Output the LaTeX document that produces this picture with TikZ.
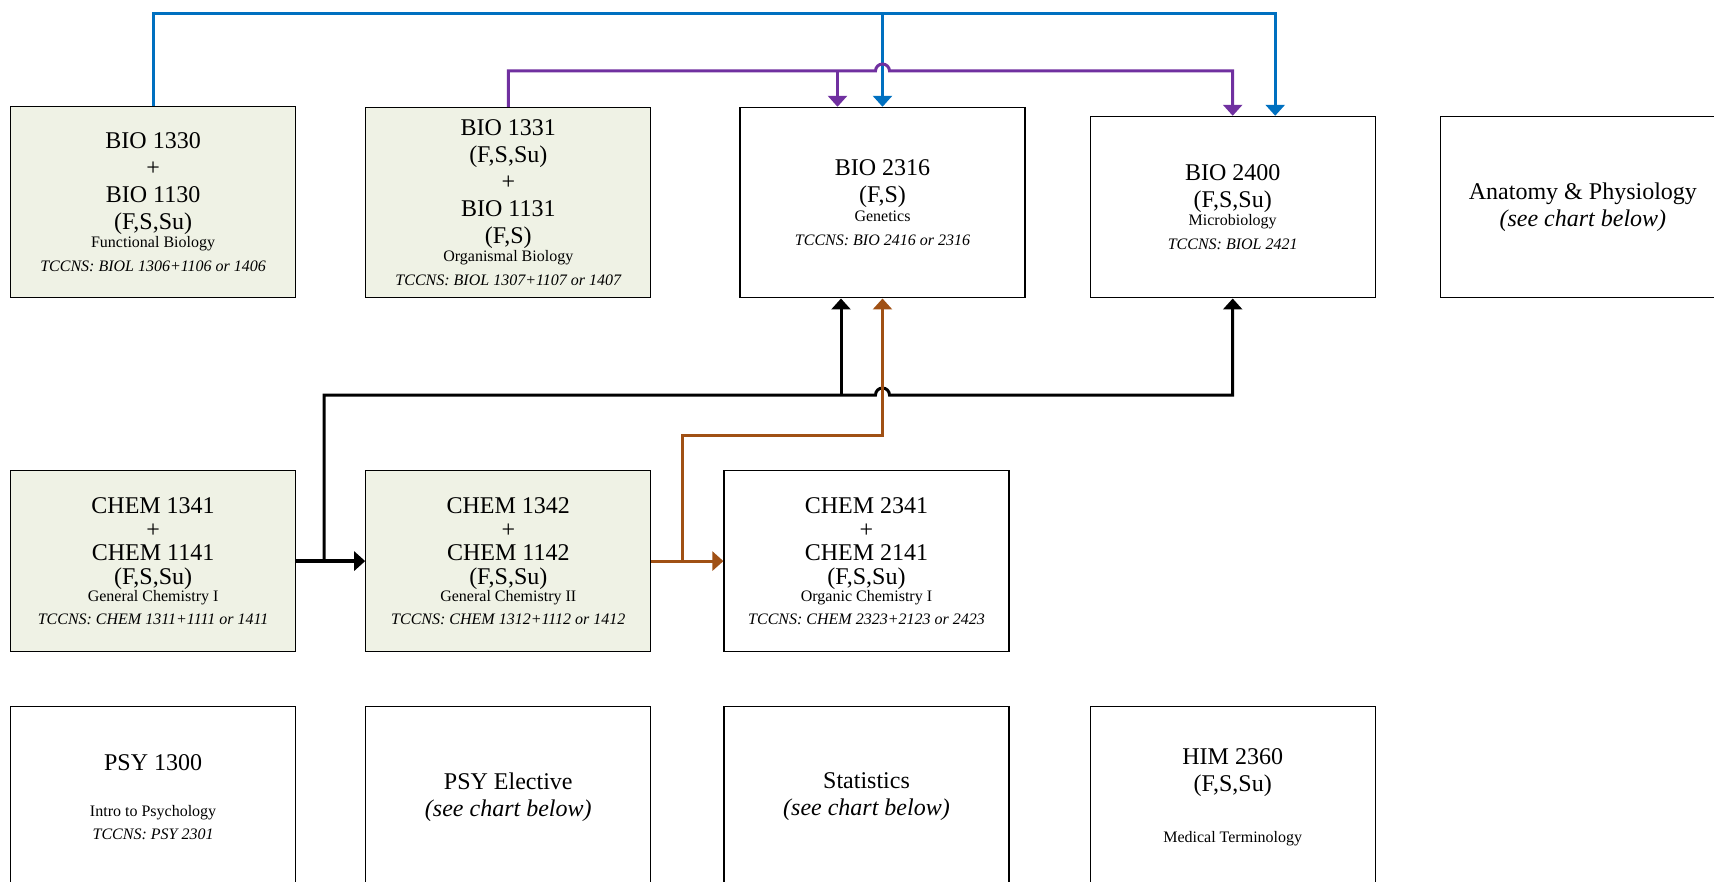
\documentclass[tikz,border=0pt]{standalone}
\usepackage{fontspec}
\setmainfont{Liberation Serif}
\usetikzlibrary{arrows.meta, positioning, calc}
\definecolor{grn}{RGB}{239,242,229}
\definecolor{lnblue}{RGB}{0,112,192}
\definecolor{lnpurple}{RGB}{112,48,160}
\definecolor{lnbrown}{RGB}{160,80,20}
\newcommand{\crsnote}[1]{{\fontsize{8}{9.6}\selectfont #1}}
\newcommand{\crstcc}[1]{{\fontsize{8}{9.6}\selectfont\itshape TCCNS: #1}}

\begin{document}
\begin{tikzpicture}[>={Triangle[width=9.5pt,length=5.5pt]}, line width=1.5pt]
  \tikzstyle{crs}=[draw, line width=0.6pt, align=center, minimum width=142.5pt, inner sep=2pt, font=\fontsize{12}{13.5}\selectfont]
  \tikzstyle{lo}=[crs, fill=grn]
  \tikzstyle{tight}=[font=\fontsize{12}{11.75}\selectfont]
  \useasboundingbox (0,0) rectangle (857pt,-441pt);

  % Biology row
  \node[lo, minimum height=95.75pt, anchor=south west] (bio1330) at (5pt,-149.25pt) {BIO 1330\\+\\BIO 1130\\(F,S,Su)\\[-4.3pt]\crsnote{Functional Biology}\\[-1.5pt]\crstcc{BIOL 1306+1106 or 1406}};
  \node[lo, minimum height=95.25pt, right=34.5pt of bio1330.south east, anchor=south west] (bio1331) {BIO 1331\\(F,S,Su)\\+\\BIO 1131\\(F,S)\\[-4.3pt]\crsnote{Organismal Biology}\\[-1.5pt]\crstcc{BIOL 1307+1107 or 1407}};
  \node[crs, minimum height=95.25pt, right=44pt of bio1331.south east, anchor=south west] (bio2316) {BIO 2316\\(F,S)\\[-4.3pt]\crsnote{Genetics}\\[-1.5pt]\crstcc{BIO 2416 or 2316}};
  \node[crs, minimum height=90.75pt, right=32pt of bio2316.south east, anchor=south west] (bio2400) {BIO 2400\\(F,S,Su)\\[-4.3pt]\crsnote{Microbiology}\\[-1.5pt]\crstcc{BIOL 2421}};
  \node[crs, minimum height=90.75pt, right=32pt of bio2400.south east, anchor=south west] (anatomy) {Anatomy \& Physiology\\\textit{(see chart below)}};

  % Chemistry row
  \node[lo, tight, minimum height=90.5pt, below=85.75pt of bio1330.south west, anchor=north west] (chem1341) {CHEM 1341\\+\\CHEM 1141\\(F,S,Su)\\[-2.9pt]\crsnote{General Chemistry I}\\[-0.5pt]\crstcc{CHEM 1311+1111 or 1411}};
  \node[lo, tight, minimum height=90.5pt, right=34.5pt of chem1341] (chem1342) {CHEM 1342\\+\\CHEM 1142\\(F,S,Su)\\[-2.9pt]\crsnote{General Chemistry II}\\[-0.5pt]\crstcc{CHEM 1312+1112 or 1412}};
  \node[crs, tight, minimum height=90.5pt, right=36pt of chem1342] (chem2341) {CHEM 2341\\+\\CHEM 2141\\(F,S,Su)\\[-2.9pt]\crsnote{Organic Chemistry I}\\[-0.5pt]\crstcc{CHEM 2323+2123 or 2423}};

  % Other courses
  \node[crs, minimum height=90.5pt, below=26.75pt of chem1341] (psy1300) {PSY 1300\\[9.5pt]\crsnote{Intro to Psychology}\\[-2pt]\crstcc{PSY 2301}};
  \node[crs, minimum height=90.5pt, right=34.5pt of psy1300] (psyelec) {PSY Elective\\\textit{(see chart below)}};
  \node[crs, minimum height=90.5pt, right=36pt of psyelec] (stats) {Statistics\\\textit{(see chart below)}};
  \node[crs, minimum height=90.5pt, right=40pt of stats] (him2360) {HIM 2360\\(F,S,Su)\\[12pt]\crsnote{Medical Terminology}};

  % Prerequisite lines
  \coordinate (bluey) at (0,-7pt);
  \coordinate (purpley) at (0,-35.5pt);
  \coordinate (blacky) at (0,-197.5pt);
  \coordinate (browny) at (0,-217.5pt);
  \coordinate (b2400in) at ([xshift=21.25pt]bio2400.north);
  \coordinate (p2316in) at ([xshift=-22.5pt]bio2316.north);
  \coordinate (hopp) at (bio2316.north |- purpley);
  \coordinate (hopb) at (bio2316.south |- blacky);
  \coordinate (b2316b) at ([xshift=-20.75pt]bio2316.south);
  \coordinate (cj1) at ([xshift=14pt]chem1341.east);
  \coordinate (cj2) at ([xshift=15.5pt]chem1342.east);

  \draw[lnblue, ->] (bio1330.north) |- (b2400in |- bluey) -- (b2400in);
  \draw[lnblue, ->] (bio2316.north |- bluey) -- (bio2316.north);
  \draw[lnpurple, ->] (bio1331.north) |- ([xshift=-3.5pt]hopp) arc[start angle=180, end angle=0, radius=3.5pt] -- (bio2400.north |- purpley) -- (bio2400.north);
  \draw[lnpurple, ->] (p2316in |- purpley) -- (p2316in);

  \draw[->, line width=2pt] (chem1341) -- (chem1342);
  \draw[->] (cj1) |- ([xshift=-3.5pt]hopb) arc[start angle=180, end angle=0, radius=3.5pt] -- (bio2400.south |- blacky) -- (bio2400.south);
  \draw[->] (b2316b |- blacky) -- (b2316b);

  \draw[lnbrown, ->] (chem1342) -- (chem2341);
  \draw[lnbrown, ->] (cj2) |- (bio2316.south |- browny) -- (bio2316.south);
\end{tikzpicture}
\end{document}
